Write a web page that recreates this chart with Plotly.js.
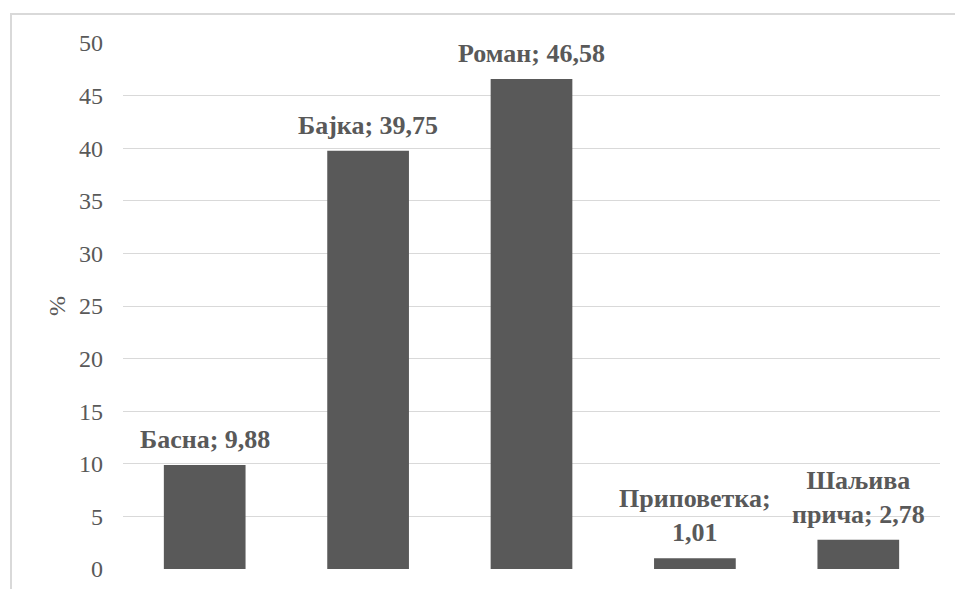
<!DOCTYPE html>
<html>
<head>
<meta charset="utf-8">
<script src="https://cdn.plot.ly/plotly-3.0.1.min.js"></script>
<style>
  html, body { margin: 0; padding: 0; background: #fff; }
  #wrap { position: relative; width: 955px; height: 589px; overflow: hidden; }
  #frame { position: absolute; left: 10px; top: 13px; width: 960px; height: 600px;
           border: 2px solid #d9d9d9; box-sizing: border-box; pointer-events: none; }
  #chart { position: absolute; left: 0; top: 0; width: 955px; height: 589px; }
</style>
</head>
<body>
<div id="wrap">
  <div id="chart"></div>
  <div id="frame"></div>
</div>
<script>
const categories = ["Басна", "Бајка", "Роман", "Приповетка", "Шаљива прича"];
const values = [9.88, 39.75, 46.58, 1.01, 2.78];
const labels = ["Басна; 9,88", "Бајка; 39,75", "Роман; 46,58", "Приповетка;<br>1,01", "Шаљива<br>прича; 2,78"];
const yTicks = [0, 5, 10, 15, 20, 25, 30, 35, 40, 45, 50];

const grey = "#595959";
const serif = "Liberation Serif";

const trace = {
  type: "bar",
  x: categories,
  y: values,
  marker: { color: grey },
  width: 0.5,
  hoverinfo: "skip"
};

const annotations = categories.map((c, i) => ({
  x: c, y: values[i], xref: "x", yref: "y",
  text: "<b>" + labels[i] + "</b>",
  showarrow: false, yanchor: "bottom", yshift: 9,
  font: { family: serif, size: 26, color: grey }
}));

const layout = {
  width: 955, height: 589,
  margin: { l: 123, r: 14.5, t: 43, b: 20 },
  paper_bgcolor: "rgba(0,0,0,0)",
  plot_bgcolor: "#fff",
  showlegend: false,
  font: { family: serif },
  xaxis: { showticklabels: false, showgrid: false, zeroline: false, showline: false, ticks: "" },
  yaxis: {
    range: [0, 50], tickvals: yTicks, ticktext: yTicks.map(String),
    gridcolor: "#d9d9d9", gridwidth: 1, zeroline: false, showline: false,
    ticks: "", ticklabelstandoff: 19,
    tickfont: { family: serif, size: 24, color: grey },
    title: { text: "%", font: { family: serif, size: 24, color: grey }, standoff: 6 }
  },
  annotations: annotations
};

Plotly.newPlot("chart", [trace], layout, { displayModeBar: false, staticPlot: true });
</script>
</body>
</html>
